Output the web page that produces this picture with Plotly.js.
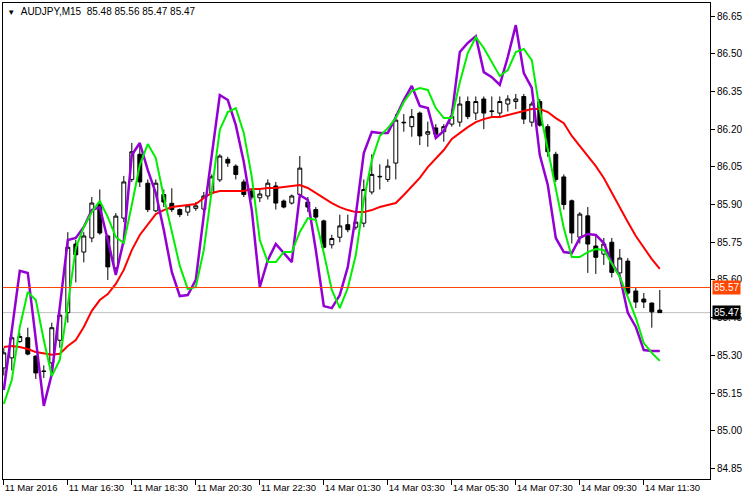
<!DOCTYPE html>
<html><head><meta charset="utf-8">
<script src="https://cdn.plot.ly/plotly-3.0.1.min.js"></script>
<style>html,body{margin:0;padding:0;background:#fff}#chart{width:750px;height:500px}</style>
</head><body><div id="chart"></div>
<script>
// ---- data ----
const symbol = 'AUDJPY,M15';
const headerOHLC = [85.48, 85.56, 85.47, 85.47];

const fridayTimes = ['11 14:30','11 14:45','11 15:00','11 15:15','11 15:30','11 15:45','11 16:00','11 16:15',
  '11 16:30','11 16:45','11 17:00','11 17:15','11 17:30','11 17:45','11 18:00','11 18:15',
  '11 18:30','11 18:45','11 19:00','11 19:15','11 19:30','11 19:45','11 20:00','11 20:15',
  '11 20:30','11 20:45','11 21:00','11 21:15','11 21:30','11 21:45','11 22:00','11 22:15',
  '11 22:30','11 22:45','11 23:00','11 23:15','11 23:30','11 23:45'];
const mondayTimes = ['14 01:00','14 01:15','14 01:30','14 01:45','14 02:00','14 02:15','14 02:30','14 02:45',
  '14 03:00','14 03:15','14 03:30','14 03:45','14 04:00','14 04:15','14 04:30','14 04:45',
  '14 05:00','14 05:15','14 05:30','14 05:45','14 06:00','14 06:15','14 06:30','14 06:45',
  '14 07:00','14 07:15','14 07:30','14 07:45','14 08:00','14 08:15','14 08:30','14 08:45',
  '14 09:00','14 09:15','14 09:30','14 09:45','14 10:00','14 10:15','14 10:30','14 10:45',
  '14 11:00','14 11:15','14 11:30','14 11:45','14 12:00'];
const times = fridayTimes.concat(mondayTimes);

const open = [85.25,85.29,85.355,85.37,85.297,85.236,85.27,85.36,85.47,85.743,
  85.711,85.767,85.90,85.775,85.648,85.846,86.00,86.10,85.985,85.875,
  85.94,85.905,85.88,85.87,85.885,85.882,85.946,85.998,86.08,86.053,
  85.99,85.954,85.927,85.934,85.974,85.914,85.906,85.94,85.91,85.88,
  85.835,85.74,85.77,85.82,85.81,85.826,85.95,86.01,86.00,86.065,
  86.225,86.21,86.264,86.18,86.205,86.19,86.22,86.228,86.31,86.264,
  86.32,86.27,86.264,86.30,86.31,86.33,86.228,86.31,86.21,86.10,
  86.01,85.915,85.77,85.855,85.735,85.703,85.75,85.628,85.675,85.556,
  85.524,85.508,85.48];
const high = [85.33,85.38,85.39,85.41,85.30,85.26,85.43,85.47,85.79,85.76,
  85.79,85.93,85.96,85.78,85.866,86.014,86.145,86.145,86.00,86.00,
  85.96,85.965,85.885,85.90,85.91,85.95,86.02,86.10,86.09,86.06,
  86.00,85.96,85.96,86.00,85.99,85.92,85.94,86.093,85.93,85.89,
  85.84,85.78,85.86,85.86,85.855,86.00,86.10,86.06,86.08,86.26,
  86.26,86.28,86.27,86.23,86.22,86.22,86.28,86.33,86.33,86.33,
  86.33,86.33,86.33,86.335,86.34,86.34,86.31,86.32,86.22,86.11,
  86.02,85.92,85.87,85.89,85.775,85.767,85.767,85.723,85.687,85.572,
  85.548,85.51,85.56];
const low = [85.22,85.24,85.35,85.30,85.206,85.21,85.25,85.33,85.43,85.59,
  85.67,85.75,85.78,85.60,85.63,85.83,85.99,85.97,85.87,85.87,
  85.89,85.87,85.85,85.855,85.875,85.87,85.94,85.99,86.05,86.00,
  85.93,85.92,85.91,85.92,85.88,85.885,85.90,85.93,85.87,85.84,
  85.725,85.725,85.75,85.79,85.80,85.81,85.94,85.96,85.99,86.00,
  86.19,86.17,86.137,86.13,86.17,86.15,86.21,86.21,86.24,86.236,
  86.20,86.25,86.25,86.27,86.28,86.22,86.21,86.21,86.09,85.99,
  85.88,85.745,85.745,85.628,85.624,85.66,85.61,85.62,85.54,85.488,
  85.488,85.41,85.47];
const close = [85.31,85.37,85.375,85.305,85.23,85.237,85.41,85.46,85.73,85.70,
  85.775,85.906,85.787,85.652,85.854,85.99,86.11,85.99,85.88,85.985,
  85.91,85.88,85.86,85.895,85.895,85.934,86.01,86.093,86.065,86.02,
  85.94,85.93,85.942,85.985,85.906,85.89,85.934,86.045,85.89,85.85,
  85.73,85.765,85.815,85.80,85.83,85.96,86.02,86.012,86.053,86.236,
  86.227,86.25,86.173,86.19,86.18,86.21,86.25,86.30,86.25,86.31,
  86.264,86.272,86.31,86.32,86.32,86.24,86.30,86.216,86.11,86.00,
  85.90,85.787,85.862,85.743,85.69,85.743,85.63,85.687,85.548,85.512,
  85.512,85.473,85.47];

const maRed = [85.333,85.337,85.333,85.325,85.313,85.306,85.302,85.306,85.337,85.361,
  85.413,85.477,85.520,85.544,85.584,85.640,85.719,85.779,85.819,85.862,
  85.878,85.890,85.894,85.898,85.902,85.926,85.946,85.954,85.954,85.954,
  85.954,85.962,85.962,85.966,85.966,85.970,85.974,85.978,85.966,85.946,
  85.926,85.906,85.890,85.878,85.870,85.870,85.878,85.890,85.898,85.906,
  85.938,85.970,86.006,86.049,86.085,86.117,86.161,86.185,86.208,86.228,
  86.240,86.248,86.248,86.256,86.264,86.272,86.280,86.280,86.268,86.244,
  86.224,86.173,86.133,86.097,86.053,86.006,85.946,85.890,85.831,85.775,
  85.727,85.683,85.644];
const linePurple = [85.162,85.401,85.636,85.628,85.361,85.099,85.226,85.500,85.759,85.767,
  85.811,85.878,85.890,85.759,85.620,85.759,86.097,86.145,86.037,85.946,
  85.799,85.632,85.536,85.540,85.600,85.858,86.097,86.336,86.316,86.216,
  86.069,85.878,85.572,85.679,85.743,85.707,85.671,85.938,85.918,85.719,
  85.496,85.488,85.540,85.652,85.858,86.105,86.189,86.185,86.185,86.248,
  86.316,86.372,86.292,86.284,86.165,86.193,86.256,86.507,86.543,86.570,
  86.427,86.407,86.376,86.487,86.614,86.423,86.364,86.097,85.978,85.767,
  85.711,85.707,85.767,85.783,85.779,85.747,85.668,85.616,85.469,85.413,
  85.321,85.317,85.317];
const lineGreen = [85.107,85.202,85.413,85.552,85.520,85.361,85.218,85.282,85.500,85.727,
  85.811,85.870,85.914,85.850,85.771,85.747,85.898,86.057,86.141,86.085,
  85.930,85.799,85.656,85.564,85.572,85.719,85.966,86.197,86.268,86.284,
  86.185,86.010,85.759,85.671,85.671,85.711,85.711,85.791,85.846,85.838,
  85.707,85.560,85.488,85.568,85.699,85.918,86.077,86.173,86.204,86.244,
  86.308,86.352,86.364,86.356,86.284,86.244,86.244,86.387,86.503,86.566,
  86.523,86.467,86.411,86.435,86.507,86.519,86.475,86.276,86.117,85.958,
  85.807,85.691,85.691,85.711,85.723,85.719,85.664,85.612,85.532,85.449,
  85.349,85.310,85.278];

const xTickTimes = ['11 14:30','11 16:30','11 18:30','11 20:30','11 22:30','14 01:30','14 03:30','14 05:30','14 07:30','14 09:30','14 11:30'];
const xTickLabels = ['11 Mar 2016','11 Mar 16:30','11 Mar 18:30','11 Mar 20:30','11 Mar 22:30','14 Mar 01:30','14 Mar 03:30','14 Mar 05:30','14 Mar 07:30','14 Mar 09:30','14 Mar 11:30'];
const yTicks = [84.85,85.00,85.15,85.30,85.45,85.60,85.75,85.90,86.05,86.20,86.35,86.50,86.65];
const levelLine = 85.57;
const bidLine = 85.47;

// ---- chart ----
const FONT = 'Liberation Sans, Arial, sans-serif';
const traces = [
  {type:'candlestick', x: times, open, high, low, close,
   increasing:{line:{color:'#000', width:1}, fillcolor:'#fff'},
   decreasing:{line:{color:'#000', width:1}, fillcolor:'#000'},
   whiskerwidth:0, hoverinfo:'skip'},
  {type:'scatter', mode:'lines', x: times, y: maRed, line:{color:'#ff0000', width:2}, hoverinfo:'skip'},
  {type:'scatter', mode:'lines', x: times, y: linePurple, line:{color:'#9400d3', width:2.5}, hoverinfo:'skip'},
  {type:'scatter', mode:'lines', x: times, y: lineGreen, line:{color:'#00ee00', width:2}, hoverinfo:'skip'}
];

const layout = {
  width:750, height:500,
  margin:{l:3, r:40, t:3, b:21, pad:0},
  paper_bgcolor:'#fff', plot_bgcolor:'#fff',
  showlegend:false, hovermode:false,
  title:{text:'<span style="font-size:8px">\u25BC</span>\u00a0\u00a0' + symbol + '\u00a0\u00a0' + headerOHLC.map(v=>v.toFixed(2)).join('\u00a0'),
    x:0.006, xanchor:'left', xref:'paper', y:0.978, yanchor:'middle', yref:'container',
    font:{family:FONT, size:10, color:'#000'}},
  xaxis:{type:'category', categoryorder:'array', categoryarray: times,
    range:[-0.1, 88.275], tickmode:'array', tickvals:xTickTimes, ticktext:xTickLabels, tickangle:0,
    ticks:'outside', ticklen:5, tickwidth:1, tickcolor:'#000', ticklabelposition:'outside right',
    showgrid:false, zeroline:false, showline:true, mirror:true, linecolor:'#000', linewidth:1, automargin:false,
    tickfont:{family:FONT, size:9.5, color:'#000'}, rangeslider:{visible:false}, fixedrange:true},
  yaxis:{side:'right', range:[84.808, 86.702], tickmode:'array', tickvals:yTicks, tickformat:'.2f',
    ticks:'outside', ticklen:4, tickwidth:1, tickcolor:'#000', automargin:false,
    showgrid:false, zeroline:false, showline:true, mirror:true, linecolor:'#000', linewidth:1,
    tickfont:{family:FONT, size:10, color:'#000'}, fixedrange:true},
  shapes:[
    {type:'line', xref:'paper', x0:0, x1:1, yref:'y', y0:levelLine, y1:levelLine, line:{color:'#ff4500', width:1}, layer:'above'},
    {type:'line', xref:'paper', x0:0, x1:1, yref:'y', y0:bidLine, y1:bidLine, line:{color:'#c0c0c0', width:1}, layer:'below'}
  ],
  annotations:[
    {xref:'paper', x:1, xshift:2, xanchor:'left', yref:'y', y:levelLine, yanchor:'middle', showarrow:false,
     text:levelLine.toFixed(2), bgcolor:'#ff4500', borderpad:1, font:{family:FONT, size:10, color:'#fff'}},
    {xref:'paper', x:1, xshift:2, xanchor:'left', yref:'y', y:bidLine, yanchor:'middle', showarrow:false,
     text:bidLine.toFixed(2), bgcolor:'#000', borderpad:1, font:{family:FONT, size:10, color:'#fff'}}
  ]
};

Plotly.newPlot('chart', traces, layout, {staticPlot:true, displayModeBar:false});
</script>
</body></html>
